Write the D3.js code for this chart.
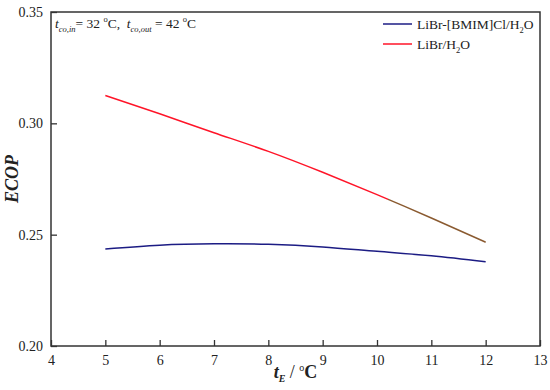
<!DOCTYPE html>
<html>
<head>
<meta charset="utf-8">
<script src="https://cdn.jsdelivr.net/npm/d3@7"></script>
</head>
<body style="margin:0; background:#fff">
<svg id="chart" width="550" height="390"></svg>
<script>
const tE = [5, 6, 7, 8, 9, 10, 11, 12];
const ecopMix = [0.2436, 0.2453, 0.2459, 0.2457, 0.2445, 0.2425, 0.2405, 0.2378];
const ecopLiBr = [0.3125, 0.3043, 0.2958, 0.2874, 0.2780, 0.2680, 0.2575, 0.2466];
const xTicks = [4, 5, 6, 7, 8, 9, 10, 11, 12, 13];
const yTicks = [0.20, 0.25, 0.30, 0.35];
const seriesNames = ["LiBr-[BMIM]Cl/H", "LiBr/H"];

const margin = { top: 12, right: 10, bottom: 44, left: 51 };
const width = 550, height = 390;

const svg = d3.select("#chart");

const x = d3.scaleLinear().domain([4, 13]).range([margin.left, width - margin.right]);
const y = d3.scaleLinear().domain([0.20, 0.35]).range([height - margin.bottom, margin.top]);

// frame
svg.append("rect")
  .attr("x", x(4)).attr("y", y(0.35))
  .attr("width", x(13) - x(4)).attr("height", y(0.20) - y(0.35))
  .attr("fill", "none").attr("stroke", "#333").attr("stroke-width", 1.5);

// x axis, ticks pointing inward
const xAxis = svg.append("g")
  .attr("transform", `translate(0,${y(0.20)})`)
  .call(d3.axisBottom(x).tickValues(xTicks).tickSizeInner(-6).tickSizeOuter(0).tickPadding(9).tickFormat(d3.format("d")));
xAxis.select(".domain").remove();
xAxis.selectAll("line").attr("stroke", "#333").attr("stroke-width", 1.3);
xAxis.selectAll("text").style("font-size", "14px");

const yAxis = svg.append("g")
  .attr("transform", `translate(${x(4)},0)`)
  .call(d3.axisLeft(y).tickValues(yTicks).tickSizeInner(-6).tickSizeOuter(0).tickPadding(8).tickFormat(d3.format(".2f")));
yAxis.select(".domain").remove();
yAxis.selectAll("line").attr("stroke", "#333").attr("stroke-width", 1.3);
yAxis.selectAll("text").style("font-size", "14px");

// axis titles
const xt = svg.append("text")
  .attr("x", x(8.5)).attr("y", 378)
  .attr("text-anchor", "middle")
  .style("font-size", "18px").style("font-weight", "bold");
xt.append("tspan").style("font-style", "italic").text("t");
xt.append("tspan").style("font-size", "10px").style("font-style", "italic").attr("dy", 4).text("E");
xt.append("tspan").attr("dy", -4).style("font-weight", "normal").text(" / ");
xt.append("tspan").style("font-size", "10px").style("font-weight", "normal").attr("dy", -7).text("o");
xt.append("tspan").attr("dy", 7).text("C");

svg.append("text")
  .attr("transform", `translate(18,${y(0.275)}) rotate(-90)`)
  .attr("text-anchor", "middle")
  .style("font-size", "18px").style("font-weight", "bold").style("font-style", "italic")
  .text("ECOP");

// condition note
const note = svg.append("text")
  .attr("x", x(4) + 4).attr("y", 28)
  .style("font-size", "13.5px");
note.append("tspan").style("font-style", "italic").text("t");
note.append("tspan").style("font-size", "8.5px").style("font-style", "italic").attr("dy", 4).text("co,in");
note.append("tspan").attr("dy", -4).text("= 32 ");
note.append("tspan").style("font-size", "8.5px").attr("dy", -6).text("o");
note.append("tspan").attr("dy", 6).text("C,\u00a0\u00a0");
note.append("tspan").style("font-style", "italic").text("t");
note.append("tspan").style("font-size", "8.5px").style("font-style", "italic").attr("dy", 4).text("co,out");
note.append("tspan").attr("dy", -4).text(" = 42 ");
note.append("tspan").style("font-size", "8.5px").attr("dy", -6).text("o");
note.append("tspan").attr("dy", 6).text("C");

// gradient for the red curve (brownish tail in the original)
const grad = svg.append("defs").append("linearGradient")
  .attr("id", "redTail").attr("gradientUnits", "userSpaceOnUse")
  .attr("x1", x(4)).attr("x2", x(13)).attr("y1", 0).attr("y2", 0);
const cut = (x(10.2) - x(4)) / (x(13) - x(4));
grad.append("stop").attr("offset", cut).attr("stop-color", "#ff1428");
grad.append("stop").attr("offset", cut).attr("stop-color", "#8a5a30");

const line = d3.line().x(d => x(d[0])).y(d => y(d[1])).curve(d3.curveNatural);

svg.append("path")
  .datum(d3.zip(tE, ecopMix))
  .attr("d", line)
  .attr("fill", "none").attr("stroke", "#1c1c84").attr("stroke-width", 1.5);

svg.append("path")
  .datum(d3.zip(tE, ecopLiBr))
  .attr("d", line)
  .attr("fill", "none").attr("stroke", "url(#redTail)").attr("stroke-width", 1.5);

// legend
const legendColors = ["#1c1c84", "#ff1428"];
const lg = svg.append("g");
seriesNames.forEach((name, i) => {
  const ly = 24 + i * 20;
  lg.append("line")
    .attr("x1", 383).attr("x2", 412).attr("y1", ly).attr("y2", ly)
    .attr("stroke", legendColors[i]).attr("stroke-width", 1.5);
  const t = lg.append("text").attr("x", 417).attr("y", ly + 5).style("font-size", "13.5px");
  t.append("tspan").text(name);
  t.append("tspan").style("font-size", "8.5px").attr("dy", 4).text("2");
  t.append("tspan").attr("dy", -4).text("O");
});

// Times-like font everywhere
svg.selectAll("text").style("font-family", "'Liberation Serif'").style("fill", "#222");
</script>
</body>
</html>
